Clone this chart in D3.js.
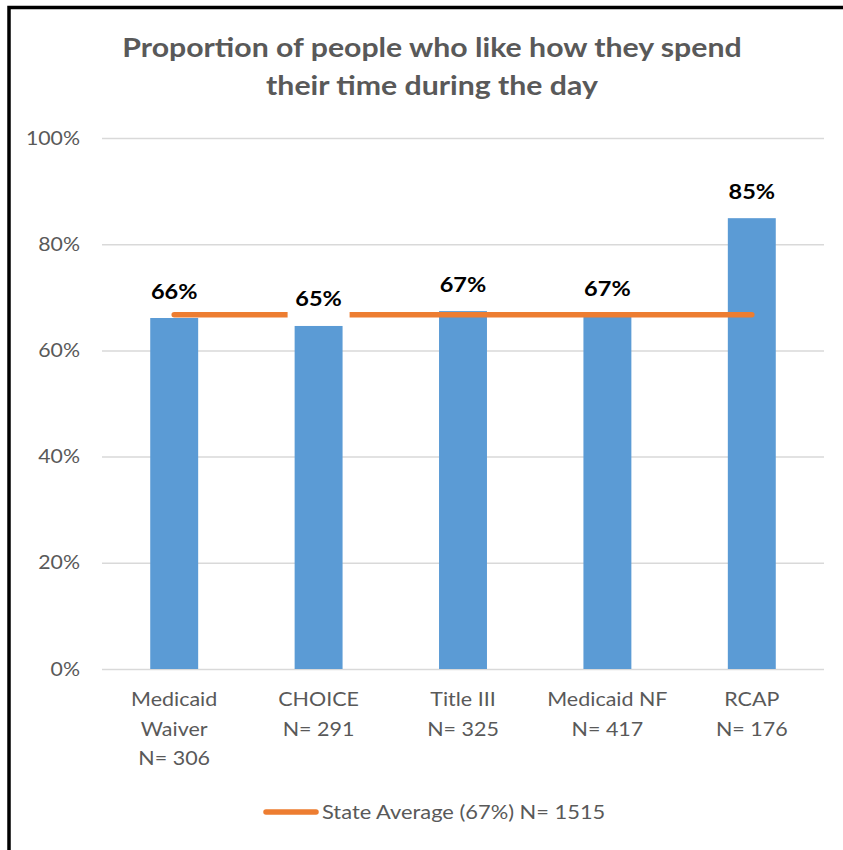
<!DOCTYPE html>
<html>
<head>
<meta charset="utf-8">
<script src="https://cdn.jsdelivr.net/npm/d3@7"></script>
<style>
  html, body { margin: 0; padding: 0; background: #fff; }
  svg { display: block; }
  text { font-family: Lato, "Open Sans", sans-serif; }
</style>
</head>
<body>
<svg id="chart" width="843" height="850"></svg>
<script>
// ---- data ----
const titleLines = ["Proportion of people who like how they spend", "their time during the day"];
const categories = ["Medicaid Waiver", "CHOICE", "Title III", "Medicaid NF", "RCAP"];
const categoryLabelLines = [["Medicaid", "Waiver", "N= 306"], ["CHOICE", "N= 291"], ["Title III", "N= 325"], ["Medicaid NF", "N= 417"], ["RCAP", "N= 176"]];
const values = [0.661, 0.646, 0.674, 0.665, 0.849];
const valueLabels = ["66%", "65%", "67%", "67%", "85%"];
const stateAverage = 0.667;
const legendLabel = "State Average (67%) N= 1515";
const yTicks = [0, 0.2, 0.4, 0.6, 0.8, 1.0];
const yTickLabels = ["0%", "20%", "40%", "60%", "80%", "100%"];

// ---- layout ----
const svg = d3.select("#chart");
const plot = { left: 102, right: 824, top: 138, bottom: 669 };
const gray = "#595959";

// widen glyphs horizontally to mimic the reference's wider typeface
function stretch(sel, f) {
  sel.each(function () {
    const len = this.getComputedTextLength();
    d3.select(this).attr("textLength", len * f).attr("lengthAdjust", "spacingAndGlyphs");
  });
}

svg.append("rect").attr("width", 843).attr("height", 850).attr("fill", "#fff");
// frame
svg.append("path").attr("d", "M9 852 V7.5 H846").attr("fill", "none").attr("stroke", "#000").attr("stroke-width", 3.5);

const x = d3.scaleBand().domain(categories).range([plot.left, plot.right]).paddingInner(0.668).paddingOuter(0.334);
const y = d3.scaleLinear().domain([0, 1]).range([plot.bottom, plot.top]);

// title
svg.append("g").selectAll("text").data(titleLines).join("text")
  .attr("x", 432).attr("y", (d, i) => 57 + i * 38)
  .attr("text-anchor", "middle").attr("font-size", 27).attr("font-weight", "bold")
  .attr("fill", gray).text(d => d)
  .call(stretch, 1.12);

// gridlines + tick labels
const yAxis = d3.axisLeft(y).tickValues(yTicks).tickFormat((d, i) => yTickLabels[i])
  .tickSize(-(plot.right - plot.left)).tickPadding(22);
const gy = svg.append("g").attr("transform", `translate(${plot.left},0)`).call(yAxis);
gy.select(".domain").remove();
gy.selectAll(".tick line").attr("stroke", "#d9d9d9").attr("stroke-width", 1.5);
gy.selectAll(".tick text").attr("fill", gray).attr("font-size", 19).attr("font-family", "Lato, sans-serif")
  .call(stretch, 1.12);

// bars
svg.append("g").selectAll("rect").data(values).join("rect")
  .attr("x", (d, i) => x(categories[i]))
  .attr("width", x.bandwidth())
  .attr("y", d => y(d))
  .attr("height", d => y(0) - y(d))
  .attr("fill", "#5b9bd5");

// state average line
svg.append("line")
  .attr("x1", x(categories[0]) + x.bandwidth() / 2)
  .attr("x2", x(categories[categories.length - 1]) + x.bandwidth() / 2)
  .attr("y1", y(stateAverage)).attr("y2", y(stateAverage))
  .attr("stroke", "#ed7d31").attr("stroke-width", 5.5).attr("stroke-linecap", "round");

// data labels with white box
const lab = svg.append("g").selectAll("g").data(values).join("g")
  .attr("transform", (d, i) => `translate(${x(categories[i]) + x.bandwidth() / 2},${y(d) - 27})`);
lab.append("rect").attr("x", -31).attr("y", -20).attr("width", 62).attr("height", 40).attr("fill", "#fff");
lab.append("text").attr("text-anchor", "middle").attr("y", 7.5)
  .attr("font-size", 21).attr("font-weight", "bold").attr("fill", "#000")
  .text((d, i) => valueLabels[i])
  .call(stretch, 1.12);

// category labels
const catLines = [];
categoryLabelLines.forEach((lines, i) => lines.forEach((t, j) => catLines.push({ t, i, j })));
svg.append("g").selectAll("text").data(catLines).join("text")
  .attr("text-anchor", "middle").attr("font-size", 19).attr("fill", gray)
  .attr("x", d => x(categories[d.i]) + x.bandwidth() / 2)
  .attr("y", d => 706 + d.j * 29.5)
  .text(d => d.t)
  .call(stretch, 1.13);

// legend
svg.append("line").attr("x1", 266).attr("x2", 316).attr("y1", 812).attr("y2", 812)
  .attr("stroke", "#ed7d31").attr("stroke-width", 5.5).attr("stroke-linecap", "round");
svg.append("text").attr("x", 322).attr("y", 819).attr("font-size", 19).attr("fill", gray).text(legendLabel)
  .call(stretch, 1.15);
</script>
</body>
</html>
